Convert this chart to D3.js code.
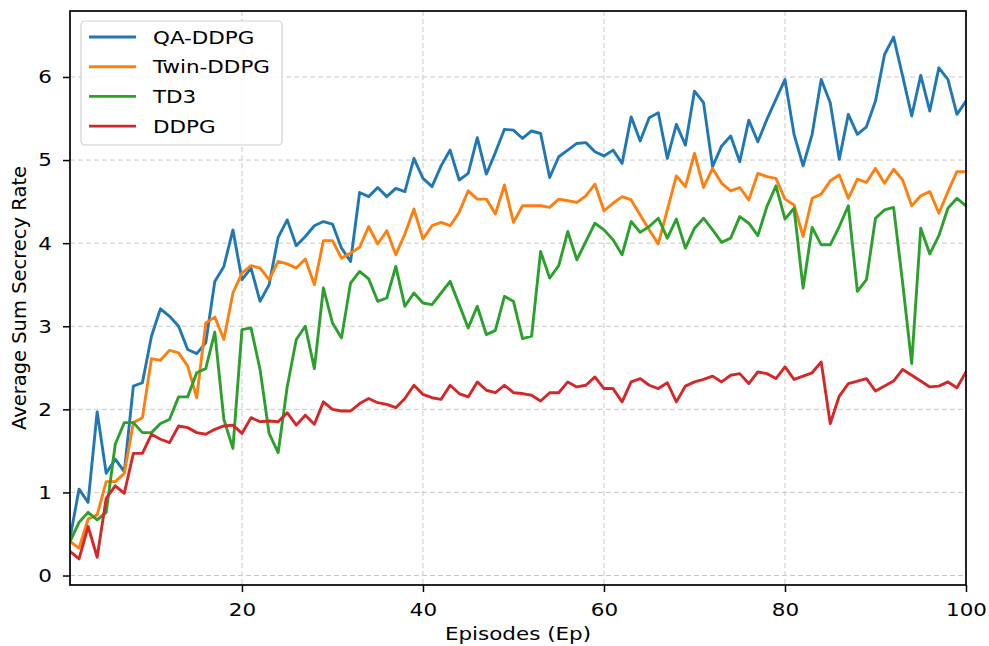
<!DOCTYPE html>
<html>
<head>
<meta charset="utf-8">
<script src="https://cdn.jsdelivr.net/npm/d3@7"></script>
<style>
  body { margin: 0; background: #fff; }
  svg { display: block; font-family: "DejaVu Sans", sans-serif; }
</style>
</head>
<body>
<svg id="chart"></svg>
<script>
// episode index 1..100 (x categories)
const episodes = d3.range(1, 101);

// values
const qaDdpg = [
  0.45, 1.04, 0.88, 1.97, 1.23, 1.40, 1.25, 2.28, 2.32, 2.88,
  3.21, 3.12, 3.00, 2.72, 2.67, 2.80, 3.54, 3.72, 4.16, 3.56,
  3.70, 3.30, 3.50, 4.07, 4.28, 3.97, 4.08, 4.21, 4.26, 4.23,
  3.94, 3.78, 4.61, 4.56, 4.67, 4.56, 4.66, 4.62, 5.02, 4.78,
  4.68, 4.93, 5.12, 4.76, 4.84, 5.27, 4.83, 5.09, 5.37, 5.36,
  5.26, 5.35, 5.32, 4.79, 5.04, 5.12, 5.20, 5.21, 5.10, 5.05,
  5.12, 4.96, 5.52, 5.23, 5.51, 5.57, 5.02, 5.43, 5.18, 5.83,
  5.69, 4.92, 5.17, 5.29, 4.98, 5.48, 5.22, 5.49, 5.73, 5.97,
  5.31, 4.93, 5.31, 5.97, 5.69, 5.01, 5.55, 5.31, 5.40, 5.71,
  6.27, 6.48, 6.01, 5.53, 6.02, 5.59, 6.11, 5.97, 5.55, 5.71
];
const twinDdpg = [
  0.41, 0.33, 0.68, 0.73, 1.13, 1.13, 1.23, 1.84, 1.90, 2.61,
  2.59, 2.71, 2.68, 2.52, 2.14, 3.04, 3.11, 2.84, 3.40, 3.64,
  3.73, 3.70, 3.56, 3.78, 3.75, 3.70, 3.81, 3.50, 4.03, 4.03,
  3.82, 3.88, 3.95, 4.20, 3.99, 4.15, 3.86, 4.11, 4.41, 4.05,
  4.21, 4.25, 4.21, 4.37, 4.63, 4.53, 4.53, 4.35, 4.70, 4.25,
  4.45, 4.45, 4.45, 4.43, 4.53, 4.51, 4.49, 4.57, 4.71, 4.39,
  4.48, 4.56, 4.52, 4.34, 4.16, 3.99, 4.40, 4.81, 4.68, 5.08,
  4.67, 4.90, 4.72, 4.63, 4.67, 4.52, 4.84, 4.80, 4.78, 4.53,
  4.46, 4.08, 4.54, 4.59, 4.75, 4.82, 4.54, 4.77, 4.73, 4.90,
  4.72, 4.89, 4.76, 4.45, 4.57, 4.62, 4.36, 4.62, 4.86, 4.86
];
const td3 = [
  0.41, 0.64, 0.76, 0.67, 0.76, 1.58, 1.84, 1.84, 1.72, 1.72,
  1.83, 1.88, 2.15, 2.15, 2.44, 2.49, 2.93, 1.88, 1.53, 2.96,
  2.98, 2.48, 1.71, 1.48, 2.27, 2.84, 3.00, 2.49, 3.46, 3.04,
  2.86, 3.52, 3.66, 3.57, 3.30, 3.34, 3.72, 3.24, 3.40, 3.28,
  3.26, 3.40, 3.54, 3.26, 2.98, 3.24, 2.90, 2.95, 3.36, 3.30,
  2.85, 2.88, 3.90, 3.58, 3.73, 4.14, 3.80, 4.02, 4.24, 4.16,
  4.04, 3.86, 4.26, 4.13, 4.20, 4.30, 4.06, 4.29, 3.94, 4.18,
  4.30, 4.16, 4.01, 4.06, 4.32, 4.24, 4.09, 4.44, 4.69, 4.29,
  4.42, 3.46, 4.19, 3.98, 3.98, 4.20, 4.45, 3.42, 3.56, 4.30,
  4.40, 4.43, 3.52, 2.55, 4.18, 3.87, 4.09, 4.42, 4.54, 4.45
];
const ddpg = [
  0.29, 0.20, 0.59, 0.22, 0.93, 1.08, 0.99, 1.47, 1.47, 1.70,
  1.64, 1.60, 1.80, 1.78, 1.72, 1.70, 1.76, 1.80, 1.81, 1.71,
  1.90, 1.85, 1.86, 1.85, 1.96, 1.81, 1.93, 1.82, 2.09, 2.00,
  1.98, 1.98, 2.07, 2.13, 2.08, 2.06, 2.02, 2.13, 2.29, 2.18,
  2.14, 2.12, 2.29, 2.19, 2.15, 2.33, 2.23, 2.20, 2.29, 2.20,
  2.19, 2.17, 2.10, 2.20, 2.20, 2.33, 2.27, 2.29, 2.39, 2.25,
  2.25, 2.09, 2.33, 2.37, 2.29, 2.25, 2.32, 2.09, 2.28, 2.33,
  2.36, 2.40, 2.33, 2.41, 2.43, 2.31, 2.45, 2.43, 2.37, 2.51,
  2.36, 2.40, 2.44, 2.57, 1.83, 2.16, 2.31, 2.34, 2.37, 2.22,
  2.28, 2.34, 2.48, 2.41, 2.34, 2.27, 2.28, 2.33, 2.26, 2.45
];

const seriesNames = ['QA-DDPG', 'Twin-DDPG', 'TD3', 'DDPG'];
const seriesColors = ['#1f77b4', '#ff7f0e', '#2ca02c', '#d62728'];
const xTicks = [20, 40, 60, 80, 100];
const yTicks = [0, 1, 2, 3, 4, 5, 6];

const series = [qaDdpg, twinDdpg, td3, ddpg].map((vals, i) => ({
  name: seriesNames[i],
  color: seriesColors[i],
  values: vals.map((v, j) => ({ ep: episodes[j], v }))
}));

const width = 989, height = 646;
const margin = { top: 11, right: 23, bottom: 61, left: 70 };
const fs = 18.5, stretch = 1.16;  // the picture is a bit wider than tall

const x = d3.scaleLinear()
  .domain([1, 100])
  .range([margin.left, width - margin.right]);

// matplotlib autoscale: data range plus 5% each side
const ymin = d3.min(series, s => d3.min(s.values, d => d.v));
const ymax = d3.max(series, s => d3.max(s.values, d => d.v));
const pad = (ymax - ymin) * 0.05;
const y = d3.scaleLinear()
  .domain([ymin - pad, ymax + pad])
  .range([height - margin.bottom, margin.top]);

const svg = d3.select('#chart')
  .attr('width', width)
  .attr('height', height)
  .attr('viewBox', `0 0 ${width} ${height}`);

svg.append('rect').attr('width', width).attr('height', height).attr('fill', '#fff');

svg.append('clipPath').attr('id', 'plot-clip')
  .append('rect')
    .attr('x', margin.left).attr('y', margin.top)
    .attr('width', width - margin.left - margin.right)
    .attr('height', height - margin.top - margin.bottom);

// grid
const grid = svg.append('g')
  .attr('stroke', '#c9c9c9')
  .attr('stroke-width', 1)
  .attr('stroke-dasharray', '5,3');

grid.selectAll('line.gx')
  .data(xTicks)
  .join('line')
    .attr('x1', d => x(d)).attr('x2', d => x(d))
    .attr('y1', margin.top).attr('y2', height - margin.bottom);

grid.selectAll('line.gy')
  .data(yTicks)
  .join('line')
    .attr('class', 'gy')
    .attr('x1', margin.left).attr('x2', width - margin.right)
    .attr('y1', d => y(d)).attr('y2', d => y(d));

// lines
const line = d3.line()
  .x(d => x(d.ep))
  .y(d => y(d.v));

svg.append('g')
  .attr('clip-path', 'url(#plot-clip)')
  .selectAll('path')
  .data(series)
  .join('path')
    .attr('fill', 'none')
    .attr('stroke', d => d.color)
    .attr('stroke-width', 2.9)
    .attr('stroke-linejoin', 'round')
    .attr('stroke-linecap', 'square')
    .attr('d', d => line(d.values));

// axes
const tickLen = 7, tickPad = 11;

const xAxis = svg.append('g')
  .attr('transform', `translate(0,${height - margin.bottom})`)
  .call(d3.axisBottom(x).tickValues(xTicks).tickFormat(d3.format('d'))
    .tickSize(tickLen).tickPadding(tickPad).tickSizeOuter(0));

const yAxis = svg.append('g')
  .attr('transform', `translate(${margin.left},0)`)
  .call(d3.axisLeft(y).tickValues(yTicks).tickFormat(d3.format('d'))
    .tickSize(tickLen).tickPadding(tickPad).tickSizeOuter(0));

[xAxis, yAxis].forEach(g => {
  g.select('.domain').remove();
  g.selectAll('.tick line').attr('stroke', '#000').attr('stroke-width', 1.5);
  g.selectAll('.tick text')
    .attr('fill', '#000')
    .attr('font-size', fs)
    .attr('font-family', '"DejaVu Sans", sans-serif');
});
yAxis.selectAll('.tick text')
  .attr('x', -(tickLen + tickPad) / stretch)
  .attr('transform', `scale(${stretch},1)`);
xAxis.selectAll('.tick text')
  .attr('transform', `scale(${stretch},1)`);

// frame
svg.append('rect')
  .attr('x', margin.left).attr('y', margin.top)
  .attr('width', width - margin.left - margin.right)
  .attr('height', height - margin.top - margin.bottom)
  .attr('fill', 'none')
  .attr('stroke', '#000')
  .attr('stroke-width', 1.7);

// axis labels
svg.append('text')
  .attr('transform', `translate(${(margin.left + width - margin.right) / 2},${height - 6}) scale(${stretch},1)`)
  .attr('text-anchor', 'middle')
  .attr('font-size', fs)
  .attr('fill', '#000')
  .text('Episodes (Ep)');

svg.append('text')
  .attr('transform', `translate(26,${(margin.top + height - margin.bottom) / 2}) rotate(-90)`)
  .attr('text-anchor', 'middle')
  .attr('font-size', 19.5)
  .attr('fill', '#000')
  .text('Average Sum Secrecy Rate');

// legend
const legend = svg.append('g').attr('transform', 'translate(81,21)');
legend.append('rect')
  .attr('width', 201).attr('height', 124)
  .attr('rx', 4)
  .attr('fill', '#fff').attr('fill-opacity', 0.85)
  .attr('stroke', '#d0d0d0').attr('stroke-width', 1.2);

const item = legend.selectAll('g.item')
  .data(series)
  .join('g')
    .attr('class', 'item')
    .attr('transform', (d, i) => `translate(0,${16 + i * 29.7})`);

item.append('line')
  .attr('x1', 8).attr('x2', 55)
  .attr('stroke', d => d.color)
  .attr('stroke-width', 2.9);

item.append('text')
  .attr('transform', `translate(72,0) scale(${stretch},1)`)
  .attr('dy', '0.36em')
  .attr('font-size', fs)
  .attr('fill', '#000')
  .text(d => d.name);
</script>
</body>
</html>
